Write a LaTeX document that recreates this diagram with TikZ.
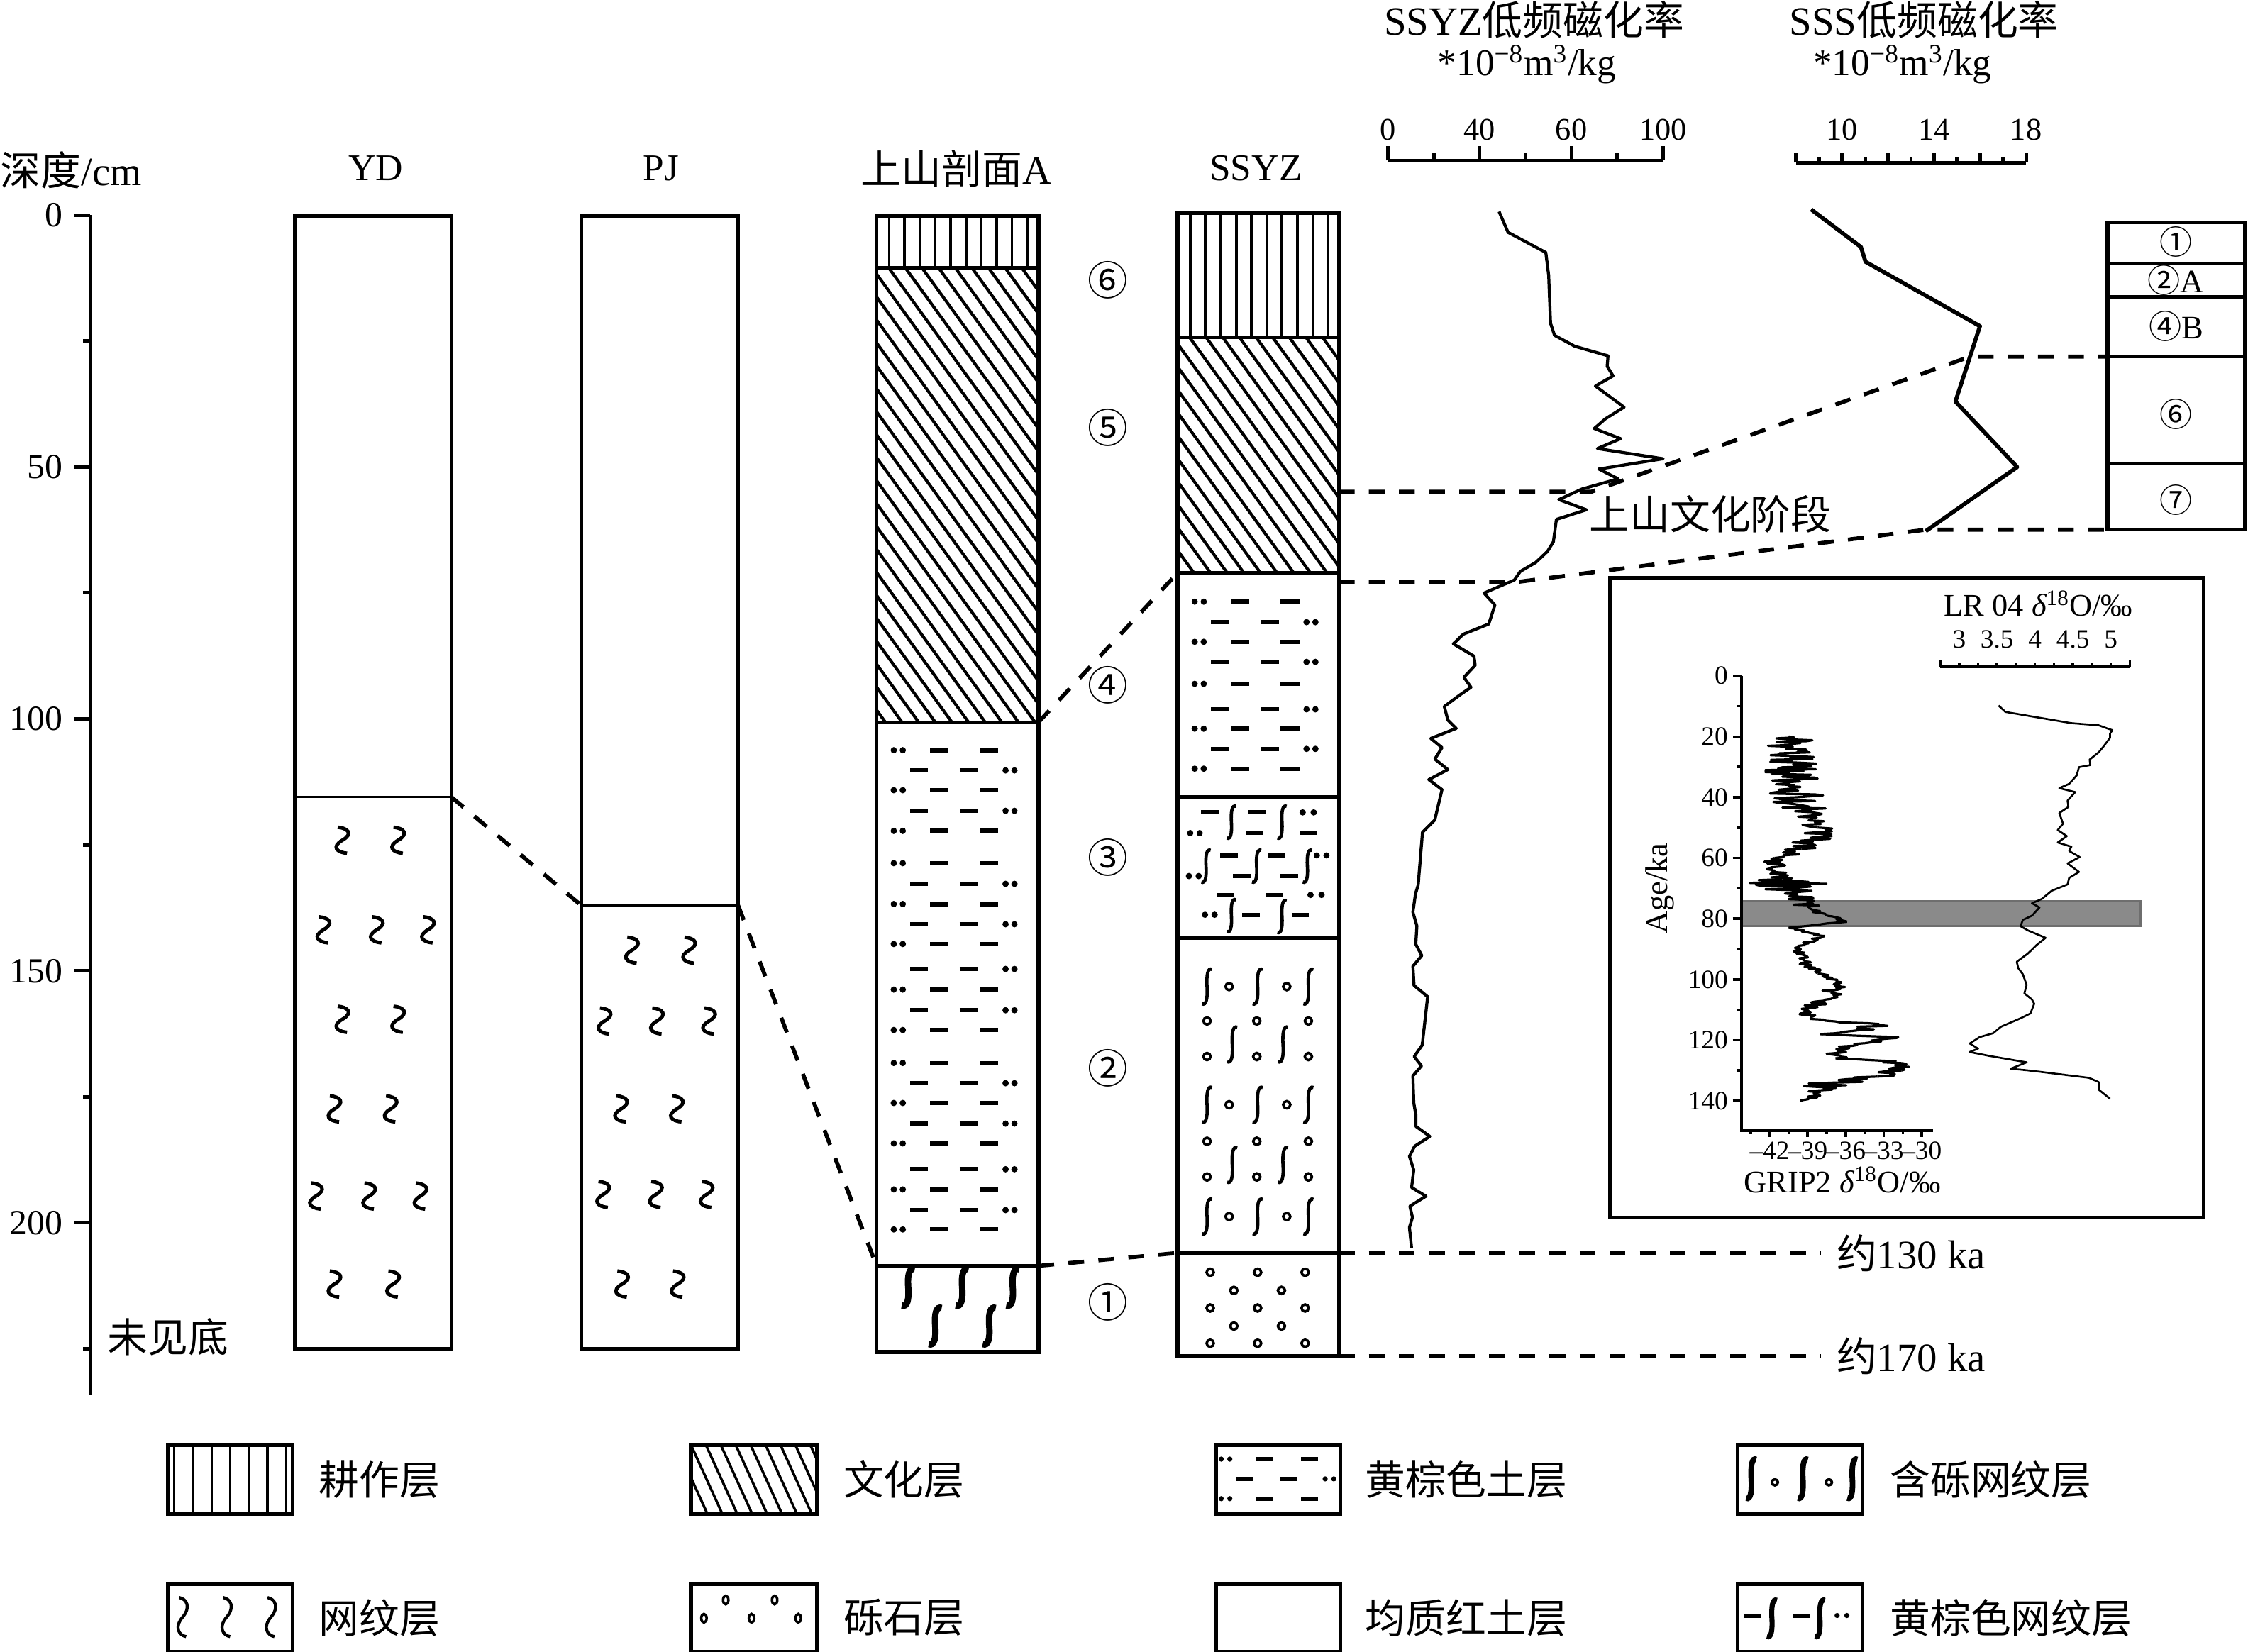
\documentclass[tikz,border=0pt]{standalone}
\usepackage{fontspec}
\setmainfont{Liberation Serif}
\newfontfamily\cjk{Noto Sans CJK SC}
\usetikzlibrary{positioning}
\definecolor{bandgray}{RGB}{138,138,138}
\definecolor{banddark}{RGB}{110,110,110}

\newcommand{\wen}[3][]{\draw[wenline,shift={(#2,#3)},scale=1.3,#1] (-2.5,-7) .. controls (3,-6.5) and (6,-3.5) .. (0,0) .. controls (-6,3.5) and (-3,6.5) .. (2.5,7);}
\newcommand{\sig}[3][]{\draw[sigline,shift={(#2,#3)},#1] (3.5,-12) .. controls (0.5,-13.5) and (-0.5,-8) .. (0,0) .. controls (0.5,8) and (-0.5,13.5) .. (-3.5,12);}
\newcommand{\peb}[3][]{\draw[pebline,shift={(#2,#3)},#1] (0,0) circle (2.5);}
\newcommand{\ybA}[2]{\fill (#1+12,#2) circle (2.2) (#1+18.3,#2) circle (2.2); \draw[ybdash] (#1+37.5,#2) -- (#1+50,#2) (#1+72,#2) -- (#1+85,#2);}
\newcommand{\ybB}[2]{\draw[ybdash] (#1+23.5,#2) -- (#1+36,#2) (#1+58,#2) -- (#1+70.7,#2); \fill (#1+90,#2) circle (2.2) (#1+96.2,#2) circle (2.2);}

\begin{document}
\begin{tikzpicture}[x=0.2mm,y=-0.2mm]
\tikzstyle{col}=[line width=1.5pt]
\tikzstyle{thinsep}=[line width=0.8pt]
\tikzstyle{tie}=[line width=1.6pt,dash pattern=on 2.2mm off 2mm]
\tikzstyle{hatch}=[line width=1.2pt]
\tikzstyle{till}=[line width=1.1pt]
\tikzstyle{ybdash}=[line width=1.7pt]
\tikzstyle{wenline}=[line width=1.4pt]
\tikzstyle{sigline}=[line width=1.3pt]
\tikzstyle{thickS}=[line width=2.5pt,xscale=1.3,yscale=1.05]
\tikzstyle{pebline}=[line width=1pt]
\tikzstyle{axis}=[line width=1.4pt]
\tikzstyle{iaxis}=[line width=1pt]
\tikzstyle{curve}=[line width=1.2pt,line join=round]
\tikzstyle{grip}=[line width=0.9pt,line join=round]
\tikzstyle{legbox}=[line width=1.5pt]
\tikzstyle{lab}=[font=\fontsize{16}{18}\selectfont\cjk,inner sep=0pt]
\tikzstyle{latin}=[font=\fontsize{15}{17}\selectfont,inner sep=0pt]
\tikzstyle{num}=[font=\fontsize{14}{16}\selectfont,inner sep=0pt]
\tikzstyle{scl}=[font=\fontsize{12.5}{14}\selectfont,inner sep=0pt]
\tikzstyle{itick}=[font=\fontsize{10.5}{12}\selectfont,inner sep=0pt]
\tikzstyle{ititle}=[font=\fontsize{12.5}{14}\selectfont,inner sep=0pt]
\tikzstyle{circ}=[font=\fontsize{16}{18}\selectfont\cjk,inner sep=0pt]
\tikzstyle{rcirc}=[font=\fontsize{13}{15}\selectfont,inner sep=0pt]

\useasboundingbox (0,0) rectangle (1568,1152);

% depth axis
\node[lab,anchor=west] (depth) at (0,118.6) {深度{\rmfamily/cm}};
\draw[axis] (63,150) -- (63,973);
\foreach \d in {0,50,...,200} {
  \draw[axis] (52,{150+3.5151*\d}) -- (63,{150+3.5151*\d});
  \node[num,anchor=east] (d\d) at (44,{150+3.5151*\d}) {\d};
}
\foreach \d in {25,75,...,225} \draw[axis] (58,{150+3.5151*\d}) -- (63,{150+3.5151*\d});
\node[lab,anchor=west] (nobase) at (74.6,932.6) {未见底};

% column titles
\node[latin] (tYD) at (262,117.5) {YD};
\node[latin] (tPJ) at (461,117.5) {PJ};
\node[lab] (tA) at (667,117.5) {上山剖面{\rmfamily A}};
\node[latin] (tS) at (876,117.5) {SSYZ};

% YD
\foreach \xx/\y in {238.8/586.1,277.7/586.1,225.6/648.6,262.8/648.6,298.5/648.6,238.8/711,277.7/711,233.3/773.5,272.5/773.5,220.4/834.3,257.5/834.3,293.3/834.3,233.3/895.7,274.2/895.7} {\wen{\xx}{\y}}
\draw[thinsep] (205.5,556) -- (314.8,556);
\draw[col] (205.5,150.4) rectangle (314.8,941.1);

% PJ
\foreach \xx/\y in {440.8/662.8,480.7/662.8,421.7/712.2,458.2/712.2,494.6/712.2,433.2/773.5,472.1/773.5,420.7/833.2,457.5/833.2,492.9/833.2,433.9/895.7,472.7/895.7} {\wen{\xx}{\y}}
\draw[thinsep] (405.4,631.5) -- (514.8,631.5);
\draw[col] (405.4,150.4) rectangle (514.8,941.1);

% section A
\begin{scope}
\clip (611.4,186.7) rectangle (724.3,503.8);
\foreach \k in {-22,...,10} \draw[hatch] ({631.4+11.6*\k},186.7) -- ++(300,414);
\end{scope}
\foreach \k in {0,...,9} \draw[till] ({620.2+10.7*\k},150.8) -- ++(0,35.9);
\foreach \y in {523.3,551.2,579.6,602.1,630.6,658.5,690.3,718.5,741.5,769.4,797.6,829.7,857.6} {\ybA{611.4}{\y}}
\foreach \y in {537.4,565.6,616.5,644.7,675.9,704.7,755.6,783.8,815.6,844.1} {\ybB{611.4}{\y}}
\foreach \xx/\y in {633.5/898,671.1/898,706.4/898,652.3/925,690/925} {\sig[thickS]{\xx}{\y}}
\draw[col] (611.4,186.7) -- (724.3,186.7) (611.4,503.8) -- (724.3,503.8) (611.4,883) -- (724.3,883);
\draw[col] (611.4,150.8) rectangle (724.3,943);

% layer numbers
\foreach \n/\y/\m in {⑥/195.5/6,⑤/298.2/5,④/478/4,③/598.2/3,②/745.1/2,①/908.5/1} \node[circ] (c\m) at (773,\y) {\n};

% SSYZ
\begin{scope}
\clip (821.3,235.3) rectangle (933.8,399.8);
\foreach \k in {-12,...,10} \draw[hatch] ({841.3+11.6*\k},235.3) -- ++(300,414);
\end{scope}
\foreach \k in {0,...,9} \draw[till] ({830.1+10.7*\k},148.4) -- ++(0,86.9);
\foreach \y in {419.7,447.7,477,508.3,536.2} {\ybA{821.3}{\y}}
\foreach \y in {434,461.7,494.8,522.4} {\ybB{821.3}{\y}}
\foreach \xa/\xb/\y in {837.9/850/566.7,871/883.2/566.7,868.8/881/581.1,906.4/918.5/581.1,851.1/863.3/596.7,860/872.1/611.1,884.3/896.4/596.7,893.1/905.3/611.1,849/861.1/624.3,866.6/878.8/638.1,883.2/895.3/624.3,900.9/913/638.1} \draw[ybdash] (\xa,\y) -- (\xb,\y);
\foreach \xx/\y in {908.6/566.7,916.3/566.7,830.2/581.1,836.8/581.1,829.3/611.1,836.1/611.1,918.5/596.7,925.2/596.7,840.5/638.1,847.2/638.1,914.1/624.3,921.8/624.3} \fill (\xx,\y) circle (2.2);
\foreach \xx/\y in {858.9/573.5,894.2/573.5,841.2/604.2,876.5/604.2,911.9/604.2,858.9/638.7,894.2/639.3} {\sig[scale=0.92]{\xx}{\y}}
\foreach \y in {688.2,770.6,848.6} {
  \foreach \xx in {841.9,877.2,912.6} {\sig{\xx}{\y}}
  \peb{857.3}{\y} \peb{897.5}{\y}
}
\foreach \y in {728.6,812.6} {\sig{859.5}{\y} \sig{894.9}{\y}}
\foreach \y in {712.2,737,796.1,821} {\foreach \xx in {841.9,876.6,912.6} {\peb{\xx}{\y}}}
\foreach \y in {887.5,912.4,937} {\foreach \xx in {844.1,877.2,910.3} {\peb{\xx}{\y}}}
\foreach \y in {900.1,925} {\peb{860.6}{\y} \peb{893.8}{\y}}
\draw[col] (821.3,235.3) -- (933.8,235.3) (821.3,399.8) -- (933.8,399.8) (821.3,556) -- (933.8,556) (821.3,654.5) -- (933.8,654.5) (821.3,874) -- (933.8,874);
\draw[col] (821.3,148.4) rectangle (933.8,946);

% correlation lines
\coordinate (YDb) at (314.8,556);
\coordinate (PJa) at (405.4,631.5);
\coordinate (PJb) at (514.8,631.5);
\coordinate (Aw) at (611.4,883);
\coordinate (Ae) at (724.3,883);
\coordinate (Au) at (724.3,503.8);
\coordinate (Su) at (821.3,399.8);
\coordinate (Sl) at (821.3,874);
\draw[tie] (YDb) -- (PJa);
\draw[tie] (PJb) -- (Aw);
\draw[tie] (Au) -- (Su);
\draw[tie] (Ae) -- (Sl);

% susceptibility scales
\node[lab] (hS1) at (1070,14) {{\rmfamily SSYZ}低频磁化率};
\node[latin] (uS1) at (1065,45) {*10\textsuperscript{−8}m\textsuperscript{3}/kg};
\node[lab] (hS2) at (1342,14) {{\rmfamily SSS}低频磁化率};
\node[latin] (uS2) at (1327,45) {*10\textsuperscript{−8}m\textsuperscript{3}/kg};
\draw[axis] (968,112) -- (1160,112);
\foreach \xx/\t in {968/0,1032/40,1096/60,1160/100} {
  \draw[axis] (\xx,112) -- (\xx,102);
  \node[scl] (m\t) at (\xx,90.5) {\t};
}
\foreach \xx in {1000,1064,1128} \draw[axis] (\xx,112) -- (\xx,106.5);
\draw[axis] (1252.7,113.5) -- (1413.2,113.5);
\foreach \k in {0,2,...,10} \draw[axis] ({1252.7+16.05*\k},113.5) -- ++(0,-7);
\foreach \k in {1,3,...,9} \draw[axis] ({1252.7+16.05*\k},113.5) -- ++(0,-3.5);
\foreach \k/\t in {2/10,6/14,10/18} \node[scl] (n\t) at ({1252.7+16.05*\k},90.5) {\t};

% susceptibility curves
\draw[curve] (1045.6,147.6) -- (1051.9,162.1) -- (1078.2,176.1) -- (1080.2,192.1) -- (1081.5,225.5) -- (1084.3,233.9) -- (1098.3,241.5) -- (1121.6,248.2) -- (1121,255.5) -- (1125.1,262.2) -- (1112.8,269.3) -- (1132.8,284) -- (1119.7,292.2) -- (1112,298.9) -- (1130.4,306) -- (1114.2,312.9) -- (1160,320) -- (1115.2,327.2) -- (1128.7,334) -- (1103.2,341.2) -- (1087.3,348.5) -- (1106.5,355.6) -- (1085.6,362.3) -- (1083.5,377.9) -- (1079.4,384.6) -- (1071.1,392.4) -- (1060.4,398.6) -- (1056.3,404.6) -- (1035.1,413.7) -- (1042.7,422) -- (1038.4,435.3) -- (1020.6,442.4) -- (1013.7,449.1) -- (1028.1,457.7) -- (1028.9,464.1) -- (1021.1,472.4) -- (1026,479.4) -- (1018.2,484.8) -- (1007.4,492.8) -- (1009.9,502.3) -- (1015.7,508.1) -- (998,515.1) -- (1005.8,521.5) -- (1000.8,529.5) -- (1009.9,536.8) -- (996.6,543.8) -- (1005.8,550.8) -- (1000.8,571.9) -- (992.2,580.5) -- (989.2,617.2) -- (987.3,623.6) -- (985.5,636.3) -- (988.3,645.9) -- (987.5,658.6) -- (991.7,666.6) -- (985.5,674) -- (986.3,687.4) -- (995.8,695.3) -- (992,729) -- (986.4,737) -- (991.5,743.5) -- (985.5,750.5) -- (986.1,769.2) -- (987.6,777.9) -- (987.6,785.7) -- (997.3,792.7) -- (986.7,799.6) -- (983.1,806.6) -- (986.1,816.1) -- (984.6,828.3) -- (994.6,834.4) -- (983.4,841.4) -- (985.2,849.2) -- (983.1,856.2) -- (984.6,870.7);
\draw[curve,line width=1.6pt] (1263.3,146.1) -- (1298,172.3) -- (1301.2,182.6) -- (1381,227.5) -- (1363.9,280.1) -- (1407,325.8) -- (1343.2,370.5);

% SSS column
\draw[col] (1470,183.9) -- (1566,183.9) (1470,207) -- (1566,207) (1470,248.8) -- (1566,248.8) (1470,323.3) -- (1566,323.3);
\draw[col] (1470,155) rectangle (1566,369.5);
\node[circ,font=\fontsize{13}{15}\selectfont\cjk] (r1) at (1517.8,168.5) {①};
\node[rcirc] (r2) at (1517.8,195.4) {{\cjk ②}A};
\node[rcirc] (r4) at (1517.8,227.5) {{\cjk ④}B};
\node[circ,font=\fontsize{13}{15}\selectfont\cjk] (r6) at (1517.8,289.1) {⑥};
\node[circ,font=\fontsize{13}{15}\selectfont\cjk] (r7) at (1517.8,348.9) {⑦};

% stage lines
\coordinate (Sr1) at (933.8,343);
\coordinate (k1) at (1110,343);
\coordinate (k2) at (1374,248.8);
\coordinate (R1) at (1470,248.8);
\coordinate (Sr2) at (933.8,406);
\coordinate (k3) at (1058,406);
\coordinate (k4) at (1343,369.5);
\coordinate (R2) at (1470,369.5);
\draw[tie] (Sr1) -- (k1) -- (k2) -- (R1);
\draw[tie] (Sr2) -- (k3) -- (k4) -- (R2);
\node[lab] (stage) at (1193,358.5) {上山文化阶段};
\coordinate (S130) at (933.8,874);
\coordinate (E130) at (1270,874);
\coordinate (S170) at (933.8,946);
\coordinate (E170) at (1270,946);
\draw[tie] (S130) -- (E130);
\draw[tie] (S170) -- (E170);
\node[lab,anchor=west] (a130) at (1280.7,874) {约{\rmfamily 130 ka}};
\node[lab,anchor=west] (a170) at (1280.7,946) {约{\rmfamily 170 ka}};

% inset
\draw[line width=1.3pt] (1123,403) rectangle (1537,849);
\fill[bandgray,draw=banddark,line width=0.8pt] (1214.6,628.5) rectangle (1493,646);
\draw[iaxis] (1214.6,471.4) -- (1214.6,788.6) -- (1348.1,788.6);
\foreach \t in {0,20,...,140} {
  \draw[iaxis] (1208.6,{471.4+2.118*\t}) -- (1214.6,{471.4+2.118*\t});
  \node[itick,anchor=east] (g\t) at (1205.5,{471.4+2.118*\t}) {\t};
}
\foreach \t in {10,30,...,130} \draw[iaxis] (1211.8,{471.4+2.118*\t}) -- (1214.6,{471.4+2.118*\t});
\foreach \v/\s in {-42/42,-39/39,-36/36,-33/33,-30/30} {
  \draw[iaxis] ({1234.3+(\v+42)*8.85},788.6) -- ++(0,4.5);
  \node[itick,anchor=north] (x\s) at ({1234.3+(\v+42)*8.85},796) {–\s};
}
\foreach \v in {-43.5,-40.5,-37.5,-34.5,-31.5} \draw[iaxis] ({1234.3+(\v+42)*8.85},788.6) -- ++(0,2.8);
\node[ititle,rotate=90] (age) at (1157.7,619.7) {Age/ka};
\node[ititle] (gtitle) at (1285,823) {GRIP2 {\itshape δ}\textsuperscript{18}O/‰};
\draw[iaxis] (1353.3,465) -- (1485.5,465);
\foreach \k in {0,...,10} \draw[iaxis] ({1353.3+13.22*\k},465) -- ++(0,-3);
\foreach \k in {0,10} \draw[iaxis] ({1353.3+13.22*\k},465) -- ++(0,-5);
\foreach \v in {3,3.5,4,4.5,5} \node[itick] at ({1353.3+(\v-2.75)*52.9},446) {\v};
\node[ititle] (ltitle) at (1421.8,421) {LR 04 {\itshape δ}\textsuperscript{18}O/‰};

\pgfmathsetseed{7}
\begin{scope}[shift={(1606,471.4)},x=1.77mm,y=-0.4236mm]
\foreach \ta/\va/\tb/\vb/\am in {20/-40.5/24/-40.8/2.0,24/-40.8/28/-40.2/2.0,28/-40.2/32/-40.4/2.0,32/-40.4/36/-40.0/2.0,36/-40.0/40/-39.8/2.2,40/-39.8/44/-39.5/2.2,44/-39.5/47/-38.8/1.5,47/-38.8/50/-38.2/1.1,50/-38.2/54/-38.5/1.4,54/-38.5/57/-39.5/1.4,57/-39.5/60/-41.6/1.1,60/-41.6/64/-41.7/0.9,64/-41.7/67/-41.0/0.9,67/-41.0/70/-40.0/3.0,70/-40.0/72/-39.8/3.0,72/-39.8/76/-39.0/1.1,76/-39.0/79/-37.5/0.5,79/-37.5/81/-35.9/0.4,81/-35.9/83/-40.5/0.4,83/-40.5/86/-37.8/0.5,86/-37.8/89/-39.8/0.5,89/-39.8/94/-39.3/0.5,94/-39.3/98/-38.2/0.6,98/-38.2/101/-36.3/0.5,101/-36.3/104/-37.2/0.8,104/-37.2/107/-37.6/1.7,107/-37.6/110/-39.2/1.0,110/-39.2/113/-38.8/0.9,113/-38.8/115/-33.5/0.9,115/-33.5/117/-35.5/1.3,117/-35.5/118/-38.0/0.6,118/-38.0/119/-31.8/0.6,119/-31.8/121/-34.5/0.8,121/-34.5/123/-36.8/0.8,123/-36.8/126/-36.8/0.9,126/-36.8/127/-32.0/0.6,127/-32.0/130/-31.6/1.1,130/-31.6/132/-33.5/1.6,132/-33.5/134/-37.0/2.1,134/-37.0/136/-37.8/1.9,136/-37.8/138/-38.2/1.3,138/-38.2/140/-39.6/0.6} {
  \pgfmathtruncatemacro\nn{(\tb-\ta)*3}
  \draw[grip] (\va,\ta) \foreach \k in {1,...,\nn} { -- ({\va+(\vb-(\va))*\k/(\nn+1)+\am*rand},{\ta+(\tb-\ta)*\k/(\nn+1)}) } -- (\vb,\tb);
}
\end{scope}
\begin{scope}[shift={(1207.8,471.4)},x=10.58mm,y=-0.4236mm]
\draw[grip,line width=0.75pt] (3.52,9.8) -- (3.61,11.9) -- (4.48,15.6) -- (4.84,16.3) -- (4.96,17.4) -- (5.02,17.9) -- (4.99,19) -- (4.99,20.4) -- (4.90,23.4) -- (4.84,25.2) -- (4.72,27.6) -- (4.73,29.4) -- (4.58,30.1) -- (4.55,32.8) -- (4.45,35.6) -- (4.32,37) -- (4.53,38.3) -- (4.43,41.1) -- (4.44,43.2) -- (4.32,45.2) -- (4.37,48.7) -- (4.30,50.8) -- (4.42,52.8) -- (4.30,54.9) -- (4.48,56.3) -- (4.45,57.7) -- (4.59,59.7) -- (4.43,61.8) -- (4.58,64.6) -- (4.45,66.6) -- (4.43,68.7) -- (4.22,70.8) -- (4.09,73.5) -- (3.96,74.9) -- (4.06,76.3) -- (3.96,79) -- (3.84,80.4) -- (3.81,82.5) -- (3.91,83.9) -- (4.14,86.3) -- (4.02,88.7) -- (3.91,91.4) -- (3.76,94.2) -- (3.78,96.3) -- (3.84,98.3) -- (3.89,101.8) -- (3.86,104.6) -- (3.96,106.6) -- (3.99,108) -- (3.94,111.2) -- (3.81,112.8) -- (3.55,115.6) -- (3.45,117.7) -- (3.27,119) -- (3.14,121.1) -- (3.25,122.8) -- (3.14,123.9) -- (3.40,125.2) -- (3.89,127.3) -- (3.68,129.4) -- (3.96,130.1) -- (4.71,132.4) -- (4.84,133.8) -- (4.84,136.3) -- (4.91,137.7) -- (4.99,139.3);
\end{scope}

% legend
\draw[legbox] (117,1008) rectangle (204,1056);
\foreach \k in {0,...,6} \draw[till,line width=0.9pt] ({121.5+13*\k},1008) -- ++(0,48);
\node[lab,anchor=west] (l1) at (222,1032) {耕作层};
\begin{scope}
\clip (482,1008) rectangle (570,1056);
\foreach \k in {-3,...,9} \draw[hatch,line width=1pt] ({482+10.4*\k},1008) -- ++(30,66);
\end{scope}
\draw[legbox] (482,1008) rectangle (570,1056);
\node[lab,anchor=west] (l2) at (588,1032) {文化层};
\draw[legbox] (848,1008) rectangle (935,1056);
\foreach \y in {1017.8,1045.4} {
  \fill (851.8,\y) circle (1.8) (857.8,\y) circle (1.8);
  \draw[ybdash] (876.3,\y) -- (888.3,\y) (907.5,\y) -- (919.5,\y);
}
\draw[ybdash] (862,1031.6) -- (874,1031.6) (893.1,1031.6) -- (905.1,1031.6);
\fill (924.3,1031.6) circle (1.8) (930.3,1031.6) circle (1.8);
\node[lab,anchor=west] (l3) at (952,1032) {黄棕色土层};
\draw[legbox] (1212,1008) rectangle (1299,1056);
\foreach \xx in {1221.5,1257.5,1292} {\sig[line width=2.2pt,yscale=1.12]{\xx}{1031.5}}
\peb[scale=0.85]{1238}{1034} \peb[scale=0.85]{1275.7}{1034}
\node[lab,anchor=west] (l4) at (1318,1032) {含砾网纹层};

\draw[legbox] (117,1105) rectangle (204,1152);
\foreach \xx in {127.4,158.1,189} {\wen[line width=1.2pt,xscale=0.75,yscale=1.5]{\xx}{1128}}
\node[lab,anchor=west] (l5) at (222,1128.5) {网纹层};
\draw[legbox] (482,1105) rectangle (570,1152);
\foreach \xx/\y in {506.2/1116.1,540.3/1116.1,491/1128.8,524.2/1128.8,556.8/1128.8} {\peb[xscale=0.75,yscale=1.2]{\xx}{\y}}
\node[lab,anchor=west] (l6) at (588,1128.5) {砾石层};
\draw[legbox] (848,1105) rectangle (935,1152);
\node[lab,anchor=west] (l7) at (952,1128.5) {均质红土层};
\draw[legbox] (1212,1105) rectangle (1299,1152);
\draw[ybdash] (1216.7,1126.9) -- (1228.7,1126.9) (1250.3,1126.9) -- (1262.2,1126.9);
\sig[line width=2pt,yscale=1.05]{1235.9}{1128.9} \sig[line width=2pt,yscale=1.05]{1269.4}{1128.9}
\fill (1281.4,1126.9) circle (1.8) (1288.2,1126.9) circle (1.8);
\node[lab,anchor=west] (l8) at (1318,1128.5) {黄棕色网纹层};
\end{tikzpicture}
\end{document}
